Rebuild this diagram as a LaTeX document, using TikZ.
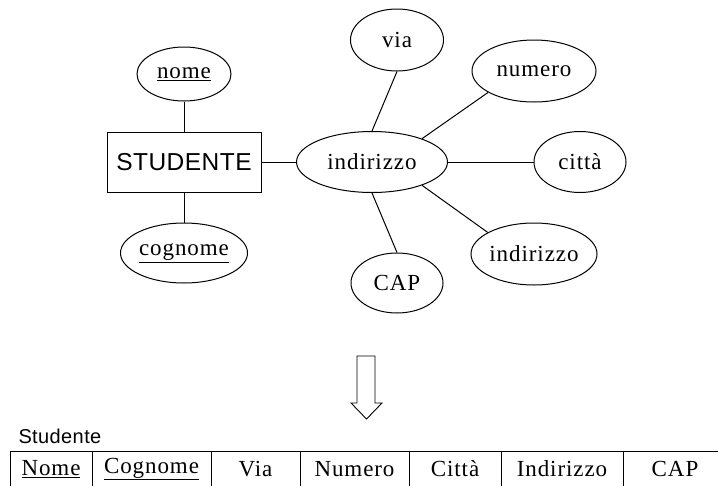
\documentclass[tikz,border=0pt]{standalone}
\usepackage{fontspec}
\setmainfont{Liberation Serif}
\newfontfamily\erserif[LetterSpace=4]{Liberation Serif}
\newfontfamily\ersans[LetterSpace=2]{Liberation Sans}
\usetikzlibrary{shapes.geometric}
\begin{document}
\begin{tikzpicture}[x=1pt,y=-1pt,line width=1pt,
  attr/.style={ellipse,draw,inner sep=0pt,font=\erserif\fontsize{23}{26}\selectfont},
  entity/.style={rectangle,draw,inner sep=0pt,minimum width=154pt,minimum height=60pt,
    font=\ersans\fontsize{24.5}{28}\selectfont},
  cell/.style={inner sep=0pt,font=\erserif\fontsize{23}{26}\selectfont},
  link/.style={draw}]
\clip (0,0) rectangle (718,485);
\fill[white] (0,0) rectangle (718,485);

% entity and its attributes
\node[entity] (stud) at (184,162) {STUDENTE};
\node[attr,minimum width=94pt,minimum height=54pt] (nome) at (184,74) {\underline{nome}};
\node[attr,minimum width=122pt,minimum height=60pt] (cogn) at (184,253) {\underline{cognome}};

% composite attribute and its parts
\node[attr,minimum width=151pt,minimum height=61pt] (ind) at (372,162) {indirizzo};
\node[attr,minimum width=93pt,minimum height=62pt] (via) at (397,40) {via};
\node[attr,minimum width=124pt,minimum height=62pt] (num) at (534,71) {numero};
\node[attr,minimum width=92pt,minimum height=61pt] (citta) at (580,162) {città};
\node[attr,minimum width=125pt,minimum height=62pt] (ind2) at (534,254) {indirizzo};
\node[attr,minimum width=92pt,minimum height=60pt] (cap) at (397,283) {CAP};

\path[link] (nome.south) -- (stud.north);
\path[link] (stud.south) -- (cogn.north);
\path[link] (stud.east) -- (ind.west);
\path[link] (ind.north) -- (via.south);
\path[link] (ind.25) -- (num.205);
\path[link] (ind.east) -- (citta.west);
\path[link] (ind.335) -- (ind2.155);
\path[link] (ind.south) -- (cap.north);

% hollow arrow to the relational schema
\draw[line width=0.9pt] (357,356) -- (375,356) -- (375,403) -- (382,403) -- (366.5,419)
  -- (351,403) -- (357,403) -- cycle;

% relation Studente
\node[anchor=base west,inner sep=0pt,font=\ersans\fontsize{20}{22}\selectfont] (rel) at (18,443) {Studente};
\draw (10,451) -- (740,451);
\foreach \x in {10,92,211,300,409,501,623} \draw (\x,451) -- (\x,500);
\node[cell] (c1) at (51,469) {\underline{Nome}};
\node[cell] (c2) at (151.5,469) {\underline{Cognome}};
\node[cell] (c3) at (255.5,469) {Via};
\node[cell] (c4) at (354.5,469) {Numero};
\node[cell] (c5) at (455,469) {Città};
\node[cell] (c6) at (562,469) {Indirizzo};
\node[cell] (c7) at (675,469) {CAP};
\end{tikzpicture}
\end{document}
